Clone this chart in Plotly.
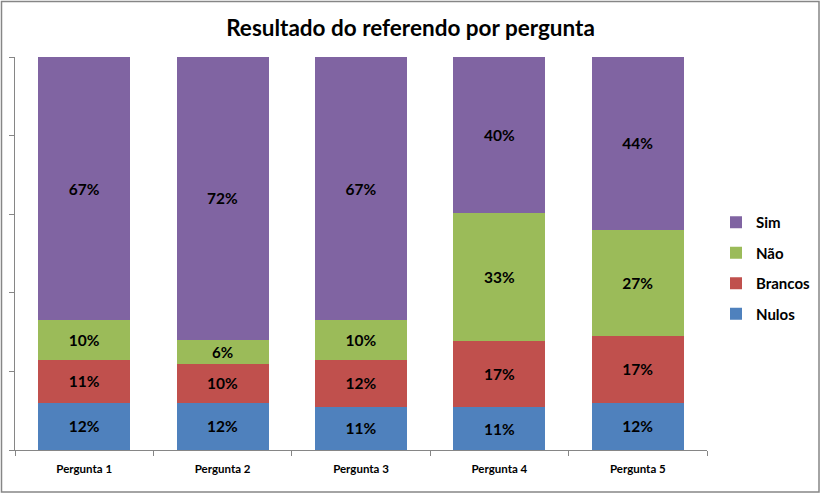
import plotly.graph_objects as go

categories = ["Pergunta 1", "Pergunta 2", "Pergunta 3", "Pergunta 4", "Pergunta 5"]
nulos = [12, 12, 11, 11, 12]
brancos = [11, 10, 12, 17, 17]
nao = [10, 6, 10, 33, 27]
sim = [67, 72, 67, 40, 44]

series = [
    ("Nulos", nulos, "#4F81BD", 4),
    ("Brancos", brancos, "#C0504D", 3),
    ("Não", nao, "#9BBB59", 2),
    ("Sim", sim, "#8064A2", 1),
]

FONT = "Lato"
fig = go.Figure()
for name, vals, color, rank in series:
    fig.add_trace(go.Bar(
        x=categories, y=vals, name=name,
        marker=dict(color=color, line=dict(width=0)),
        text=[f"{v}%" for v in vals],
        textposition="inside", insidetextanchor="middle", textangle=0,
        textfont=dict(family=FONT, size=15.5, color="black", weight="bold"),
        legendgroup=name, legendrank=rank,
        hoverinfo="skip",
    ))

W, H = 821, 494
L, R, T, B = 15, 114, 57, 44
pw, ph = W - L - R, H - T - B

def px(x):
    return (x - L) / pw

def py(y):
    return (H - B - y) / ph

fig.update_layout(
    width=W, height=H,
    margin=dict(l=L, r=R, t=T, b=B, autoexpand=False),
    barmode="stack", barnorm="percent", bargap=0.335,
    paper_bgcolor="white", plot_bgcolor="white",
    title=dict(text="Resultado do referendo por pergunta", x=0.5, xanchor="center",
               y=1 - 28 / H, yanchor="middle",
               font=dict(family=FONT, size=22.5, color="black", weight="bold")),
    legend=dict(x=px(716), y=py(206), xanchor="left", yanchor="top",
                traceorder="grouped", tracegroupgap=8,
                font=dict(family=FONT, size=15, color="black", weight="bold"),
                bgcolor="rgba(0,0,0,0)", itemwidth=30),
    xaxis=dict(showline=True, linecolor="#868686", linewidth=1,
               ticks="outside", ticklen=5, tickcolor="#868686",
               tickson="boundaries", ticklabelstandoff=8,
               tickfont=dict(family=FONT, size=11.5, color="black", weight="bold"),
               showgrid=False, fixedrange=True),
    yaxis=dict(range=[0, 100], dtick=20, showline=True, linecolor="#868686", linewidth=1,
               ticks="outside", ticklen=5, tickcolor="#868686",
               showticklabels=False, showgrid=False, zeroline=False, fixedrange=True),
    shapes=[dict(type="rect", xref="paper", yref="paper",
                 x0=px(1.5), x1=px(819), y0=py(492), y1=py(1.5),
                 line=dict(color="#868686", width=1.5), fillcolor="rgba(0,0,0,0)",
                 layer="below")],
    showlegend=True,
)

fig.write_html("out.html", config={"displayModeBar": False},
               post_script="document.body.style.margin='0';document.body.style.overflow='hidden';")
